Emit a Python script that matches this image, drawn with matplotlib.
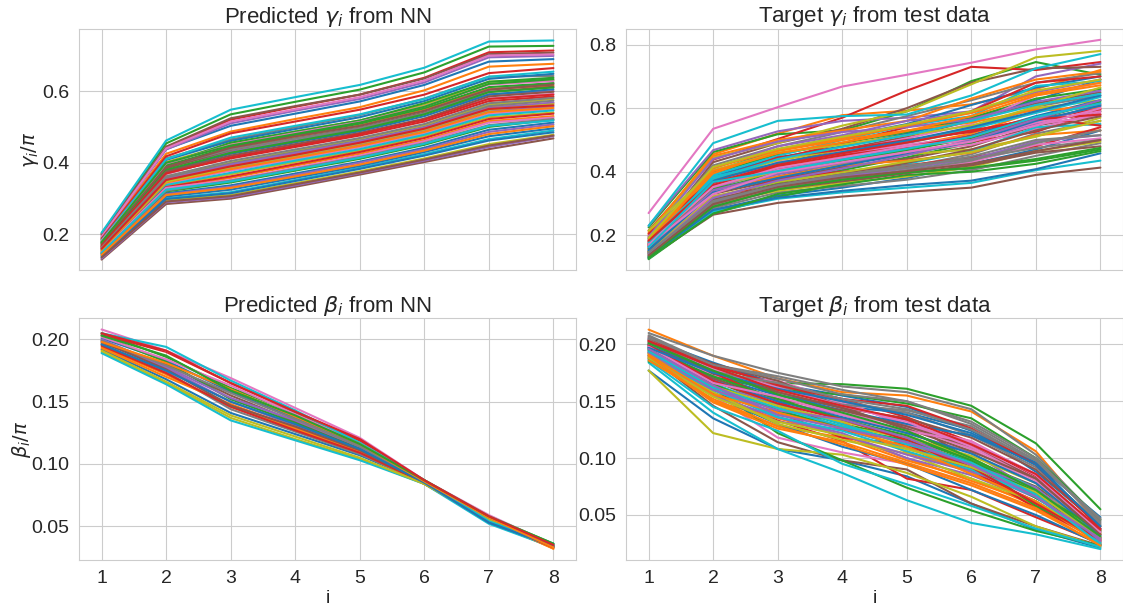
import matplotlib
matplotlib.use("Agg")
import matplotlib.pyplot as plt
import numpy as np
import seaborn as sns

steps = [1, 2, 3, 4, 5, 6, 7, 8]

# one row per test sample; order follows the colour cycle
pred_gamma = [
    [.192, .438, .503, .537, .571, .617, .682, .689],
    [.190, .425, .487, .522, .555, .602, .668, .676],
    [.201, .454, .535, .570, .604, .652, .724, .726],
    [.203, .442, .520, .556, .590, .637, .708, .713],
    [.196, .437, .510, .545, .578, .624, .694, .698],
    [.199, .445, .524, .558, .590, .635, .703, .707],
    [.194, .440, .515, .549, .583, .629, .699, .702],
    [.186, .412, .465, .499, .533, .579, .640, .642],
    [.183, .402, .452, .487, .518, .561, .626, .630],
    [.205, .462, .548, .583, .617, .665, .738, .741],
    [.180, .408, .461, .494, .527, .572, .634, .648],
    [.176, .392, .440, .473, .504, .548, .606, .615],
    [.187, .396, .456, .487, .518, .566, .626, .637],
    [.188, .418, .482, .515, .548, .590, .650, .664],
    [.173, .387, .431, .462, .493, .537, .591, .600],
    [.178, .384, .436, .468, .498, .540, .598, .612],
    [.170, .368, .418, .450, .482, .522, .579, .592],
    [.174, .390, .437, .467, .497, .538, .603, .622],
    [.167, .362, .400, .433, .467, .505, .562, .578],
    [.184, .410, .470, .503, .535, .578, .640, .654],
    [.168, .378, .425, .457, .488, .530, .590, .605],
    [.163, .355, .392, .424, .458, .497, .555, .566],
    [.172, .380, .428, .460, .492, .535, .597, .610],
    [.165, .372, .412, .444, .476, .515, .572, .585],
    [.160, .350, .385, .418, .450, .490, .545, .557],
    [.166, .375, .420, .452, .483, .523, .585, .598],
    [.158, .342, .378, .410, .443, .482, .536, .550],
    [.161, .358, .398, .430, .462, .500, .558, .573],
    [.155, .335, .368, .402, .434, .474, .527, .540],
    [.157, .338, .372, .406, .438, .478, .532, .546],
    [.146, .315, .337, .370, .403, .442, .492, .512],
    [.150, .328, .358, .392, .425, .463, .516, .530],
    [.148, .320, .345, .378, .411, .450, .500, .520],
    [.152, .332, .362, .396, .430, .469, .522, .537],
    [.145, .312, .333, .366, .400, .438, .486, .507],
    [.130, .285, .300, .333, .367, .402, .438, .468],
    [.153, .330, .352, .386, .420, .460, .512, .526],
    [.147, .322, .350, .383, .416, .455, .505, .522],
    [.135, .296, .310, .343, .376, .412, .452, .478],
    [.140, .301, .318, .352, .386, .424, .466, .490],
    [.138, .299, .315, .349, .383, .420, .462, .485],
    [.156, .345, .382, .414, .447, .486, .541, .553],
    [.175, .392, .445, .477, .509, .552, .611, .622],
    [.169, .370, .415, .447, .480, .520, .578, .590],
    [.162, .353, .395, .427, .460, .498, .552, .568],
    [.177, .388, .442, .474, .503, .545, .604, .618],
    [.182, .398, .450, .483, .514, .557, .618, .628],
    [.164, .362, .405, .437, .469, .508, .566, .581],
    [.159, .347, .388, .420, .454, .493, .548, .563],
    [.149, .325, .348, .381, .414, .453, .503, .518],
    [.142, .306, .325, .358, .391, .430, .474, .496],
    [.143, .310, .330, .362, .395, .434, .480, .502],
    [.179, .400, .448, .480, .512, .556, .620, .633],
    [.160, .352, .390, .422, .456, .495, .550, .560],
    [.133, .290, .304, .337, .371, .406, .444, .474],
    [.136, .292, .307, .340, .373, .409, .448, .476],
]

target_gamma = [
    [.170, .385, .445, .480, .520, .565, .625, .690],
    [.205, .455, .520, .578, .592, .612, .660, .720],
    [.225, .462, .518, .530, .590, .685, .745, .705],
    [.215, .438, .503, .570, .655, .730, .720, .745],
    [.230, .468, .527, .560, .570, .590, .700, .740],
    [.180, .430, .490, .535, .600, .680, .725, .730],
    [.270, .535, .603, .668, .705, .743, .785, .815],
    [.190, .420, .480, .525, .575, .625, .680, .710],
    [.200, .445, .490, .545, .590, .675, .760, .780],
    [.230, .490, .560, .575, .580, .640, .725, .770],
    [.185, .400, .470, .510, .550, .610, .665, .700],
    [.210, .450, .500, .530, .560, .630, .690, .715],
    [.175, .395, .455, .490, .525, .570, .630, .660],
    [.195, .370, .440, .490, .540, .590, .680, .700],
    [.180, .410, .480, .515, .560, .585, .650, .690],
    [.165, .375, .425, .470, .510, .560, .615, .650],
    [.200, .345, .420, .465, .505, .550, .640, .680],
    [.155, .355, .410, .445, .490, .530, .605, .640],
    [.170, .380, .435, .470, .495, .540, .600, .625],
    [.190, .390, .450, .500, .545, .575, .670, .685],
    [.150, .340, .385, .430, .470, .515, .575, .625],
    [.160, .365, .415, .450, .480, .520, .590, .610],
    [.145, .320, .365, .405, .445, .490, .555, .590],
    [.175, .370, .410, .445, .460, .495, .525, .595],
    [.165, .350, .405, .440, .475, .505, .560, .605],
    [.150, .330, .375, .415, .440, .480, .545, .580],
    [.185, .335, .405, .435, .465, .485, .535, .585],
    [.140, .310, .355, .385, .415, .455, .520, .560],
    [.155, .360, .395, .425, .455, .470, .510, .570],
    [.135, .315, .370, .400, .425, .465, .540, .550],
    [.130, .280, .325, .350, .380, .425, .470, .530],
    [.170, .345, .385, .420, .435, .460, .515, .530],
    [.125, .270, .320, .365, .400, .410, .435, .470],
    [.160, .300, .380, .400, .420, .445, .480, .540],
    [.145, .305, .350, .385, .410, .440, .495, .515],
    [.130, .265, .302, .322, .337, .350, .390, .413],
    [.155, .325, .345, .375, .405, .430, .485, .505],
    [.135, .285, .335, .355, .375, .405, .450, .490],
    [.140, .300, .340, .365, .385, .415, .465, .495],
    [.128, .275, .315, .335, .350, .365, .405, .435],
    [.132, .280, .318, .340, .358, .372, .408, .458],
    [.175, .395, .465, .500, .530, .555, .595, .600],
    [.128, .268, .330, .360, .390, .400, .425, .465],
    [.205, .375, .445, .470, .500, .525, .570, .545],
    [.195, .440, .495, .525, .540, .565, .620, .655],
    [.150, .290, .345, .370, .395, .420, .460, .480],
    [.180, .360, .430, .455, .485, .510, .550, .575],
    [.145, .295, .360, .390, .420, .440, .475, .500],
    [.215, .405, .460, .485, .515, .545, .605, .665],
    [.165, .385, .425, .460, .495, .535, .585, .635],
    [.172, .372, .428, .462, .498, .540, .590, .640],
    [.182, .402, .458, .492, .528, .575, .640, .672],
    [.158, .345, .395, .432, .468, .505, .565, .620],
    [.168, .358, .418, .452, .478, .512, .565, .598],
    [.162, .342, .392, .428, .455, .498, .552, .612],
    [.143, .312, .360, .395, .428, .470, .530, .575],
    [.175, .352, .412, .445, .480, .500, .555, .590],
    [.138, .302, .350, .378, .405, .435, .490, .530],
    [.148, .322, .368, .398, .432, .462, .512, .560],
    [.178, .378, .440, .478, .515, .560, .610, .645],
    [.153, .335, .380, .420, .455, .495, .560, .608],
    [.188, .412, .468, .505, .545, .585, .645, .680],
    [.133, .290, .345, .375, .398, .412, .440, .475],
    [.183, .365, .422, .458, .492, .530, .565, .580],
    [.142, .318, .372, .410, .452, .500, .565, .625],
    [.137, .298, .352, .382, .402, .425, .465, .500],
    [.170, .330, .398, .430, .462, .495, .545, .600],
    [.146, .308, .358, .392, .412, .448, .500, .515],
    [.192, .415, .472, .510, .548, .590, .655, .690],
    [.163, .368, .402, .438, .472, .510, .572, .615],
]

pred_beta = [
    [.192, .168, .141, .124, .107, .085, .053, .033],
    [.194, .172, .146, .128, .109, .084, .055, .032],
    [.205, .186, .161, .141, .118, .087, .058, .036],
    [.204, .190, .165, .142, .119, .086, .058, .034],
    [.199, .177, .150, .131, .112, .085, .056, .034],
    [.197, .180, .155, .134, .113, .085, .055, .035],
    [.208, .191, .169, .145, .121, .087, .059, .035],
    [.196, .174, .144, .126, .108, .085, .054, .034],
    [.190, .165, .137, .120, .104, .084, .054, .033],
    [.189, .164, .135, .119, .103, .084, .052, .033],
    [.201, .183, .158, .137, .115, .086, .053, .034],
    [.193, .170, .148, .129, .110, .084, .056, .032],
    [.203, .182, .152, .133, .112, .086, .057, .035],
    [.195, .173, .146, .127, .109, .085, .055, .033],
    [.200, .178, .153, .135, .114, .086, .056, .034],
    [.198, .176, .147, .130, .111, .085, .054, .034],
    [.202, .184, .163, .140, .117, .086, .057, .035],
    [.199, .179, .157, .136, .114, .086, .056, .035],
    [.191, .166, .139, .122, .105, .084, .055, .034],
    [.205, .194, .167, .143, .117, .087, .054, .036],
    [.196, .175, .150, .132, .112, .085, .053, .034],
    [.198, .181, .160, .138, .116, .086, .057, .033],
    [.203, .187, .159, .139, .116, .087, .058, .036],
    [.205, .191, .165, .142, .120, .087, .058, .035],
]

target_beta = [
    [.177, .135, .108, .098, .084, .060, .037, .021],
    [.213, .190, .170, .158, .155, .141, .106, .040],
    [.200, .180, .166, .165, .161, .146, .113, .055],
    [.188, .157, .133, .115, .082, .072, .048, .025],
    [.192, .158, .132, .125, .110, .090, .065, .030],
    [.190, .146, .114, .098, .090, .060, .040, .023],
    [.189, .155, .118, .105, .095, .078, .055, .028],
    [.210, .190, .175, .163, .158, .143, .103, .045],
    [.177, .122, .108, .103, .087, .066, .040, .022],
    [.184, .140, .108, .087, .063, .043, .033, .020],
    [.205, .184, .165, .155, .145, .124, .095, .048],
    [.195, .150, .128, .118, .098, .082, .058, .027],
    [.185, .162, .122, .098, .074, .054, .036, .023],
    [.203, .181, .165, .152, .136, .114, .084, .037],
    [.198, .170, .150, .138, .122, .105, .070, .032],
    [.207, .178, .155, .146, .133, .098, .075, .036],
    [.206, .175, .160, .148, .130, .112, .082, .030],
    [.208, .182, .172, .160, .150, .130, .098, .044],
    [.194, .165, .141, .128, .112, .092, .068, .033],
    [.186, .145, .124, .095, .077, .058, .038, .022],
    [.196, .172, .155, .145, .140, .125, .088, .041],
    [.188, .150, .135, .120, .100, .080, .060, .028],
    [.201, .168, .146, .130, .118, .098, .065, .035],
    [.193, .157, .140, .118, .112, .088, .062, .027],
    [.197, .164, .148, .135, .124, .100, .072, .038],
    [.199, .174, .158, .144, .135, .118, .090, .040],
    [.204, .172, .168, .150, .128, .108, .078, .035],
    [.202, .177, .163, .150, .140, .120, .092, .042],
    [.191, .160, .138, .128, .118, .102, .078, .031],
    [.195, .166, .142, .127, .108, .095, .066, .026],
    [.187, .155, .130, .110, .095, .072, .050, .024],
    [.192, .162, .144, .132, .105, .088, .058, .026],
    [.198, .171, .160, .156, .148, .135, .100, .046],
    [.200, .175, .150, .125, .115, .090, .056, .029],
    [.190, .155, .136, .122, .100, .085, .062, .028],
    [.203, .183, .168, .145, .125, .097, .068, .024],
    [.194, .168, .152, .140, .128, .115, .085, .034],
    [.205, .180, .160, .147, .142, .128, .096, .047],
    [.189, .158, .130, .116, .104, .082, .062, .030],
    [.193, .170, .147, .130, .112, .098, .074, .025],
    [.200, .176, .156, .142, .130, .120, .096, .038],
    [.186, .152, .128, .112, .094, .076, .054, .024],
    [.197, .165, .142, .126, .116, .096, .058, .030],
    [.204, .182, .164, .152, .146, .126, .094, .038],
    [.199, .163, .136, .120, .103, .088, .070, .030],
    [.196, .170, .152, .142, .128, .110, .082, .033],
    [.201, .178, .162, .146, .132, .110, .080, .030],
    [.204, .176, .166, .152, .143, .125, .098, .046],
    [.192, .163, .146, .132, .120, .100, .072, .034],
    [.190, .160, .136, .124, .106, .090, .066, .026],
    [.197, .168, .150, .136, .122, .104, .078, .032],
    [.191, .156, .140, .126, .110, .086, .062, .024],
    [.195, .172, .152, .134, .120, .098, .070, .036],
    [.199, .168, .148, .134, .116, .092, .060, .028],
    [.193, .160, .142, .134, .118, .094, .074, .027],
    [.202, .176, .158, .144, .126, .106, .082, .033],
    [.198, .166, .154, .138, .124, .114, .086, .035],
    [.206, .182, .170, .156, .150, .132, .100, .043],
    [.188, .154, .132, .120, .108, .092, .070, .029],
    [.194, .162, .144, .128, .114, .096, .068, .024],
    [.197, .175, .161, .150, .138, .122, .094, .040],
    [.190, .149, .126, .114, .096, .078, .056, .023],
    [.201, .177, .156, .140, .124, .100, .072, .031],
    [.203, .180, .160, .146, .134, .112, .086, .037],
    [.196, .164, .138, .126, .114, .094, .066, .029],
]

sns.set_style("whitegrid")
plt.rcParams["font.family"] = ["Liberation Sans", "DejaVu Sans"]
plt.rcParams["font.size"] = 14

fig, axs = plt.subplots(2, 2, figsize=(11.23, 6.08), dpi=100, sharex=True)

panels = [
    (axs[0, 0], pred_gamma, r"Predicted $\gamma_i$ from NN", (0.101, 0.773)),
    (axs[0, 1], target_gamma, r"Target $\gamma_i$ from test data", (0.091, 0.849)),
    (axs[1, 0], pred_beta, r"Predicted $\beta_i$ from NN", (0.0229, 0.2172)),
    (axs[1, 1], target_beta, r"Target $\beta_i$ from test data", (0.0104, 0.2232)),
]
for ax, rows, title, ylim in panels:
    ax.plot(steps, np.array(rows).T, linewidth=1.5)
    ax.set_title(title, fontsize=16, pad=4.5)
    ax.set_ylim(ylim)
    ax.set_xticks(steps)
    ax.tick_params(labelsize=14)

# axes positions in pixels
w, h = 1123.0, 608.0
axs[0, 0].set_position([79 / w, 1 - 270 / h, 497 / w, 241 / h])
axs[0, 1].set_position([626 / w, 1 - 270 / h, 497 / w, 241 / h])
axs[1, 0].set_position([79 / w, 1 - 560 / h, 497 / w, 242 / h])
axs[1, 1].set_position([626 / w, 1 - 560 / h, 497 / w, 242 / h])

axs[0, 0].set_yticks([0.2, 0.4, 0.6])
axs[0, 1].set_yticks([0.2, 0.4, 0.6, 0.8])
axs[1, 0].set_yticks([0.05, 0.10, 0.15, 0.20])
axs[1, 1].set_yticks([0.05, 0.10, 0.15, 0.20])

axs[0, 0].set_ylabel(r"$\gamma_i/\pi$", fontsize=14, labelpad=0.5)
axs[1, 0].set_ylabel(r"$\beta_i/\pi$", fontsize=14, labelpad=-1)
axs[1, 0].set_xlabel("i", fontsize=14, labelpad=2.5)
axs[1, 1].set_xlabel("i", fontsize=14, labelpad=2.5)

fig.savefig("out.png", dpi=100)
